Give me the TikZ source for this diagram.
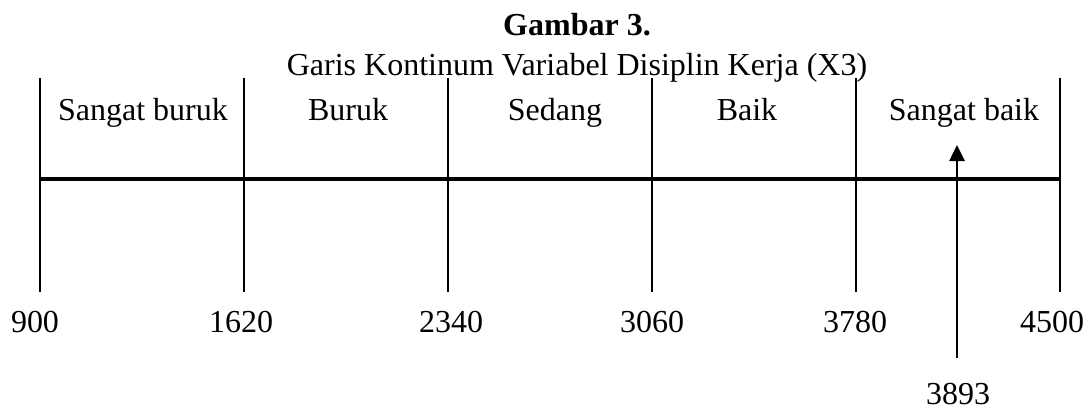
\documentclass[tikz,border=0pt]{standalone}
\usepackage{fontspec}
\setmainfont{Liberation Serif}
\usetikzlibrary{arrows.meta}
\tikzset{
  txt/.style={inner sep=0pt, anchor=base, font=\fontsize{32}{38}\selectfont},
  tick/.style={line width=2.6pt},
  axis/.style={line width=4.2pt},
  marker/.style={line width=2.6pt, -{Triangle[width=15pt,length=16pt]}}
}
\begin{document}
\begin{tikzpicture}[x=1pt,y=-1pt]
\useasboundingbox (0,0) rectangle (1090,410);
% title
\node[txt, font=\fontsize{32}{38}\selectfont\bfseries] (title) at (577,35) {Gambar 3.};
\node[txt] (sub) at (577,75) {Garis Kontinum Variabel Disiplin Kerja (X3)};
% ticks
\foreach \i/\x in {0/40,1/244,2/448,3/652,4/856,5/1060}{
  \coordinate (t\i-top) at (\x,78);
  \coordinate (t\i-bot) at (\x,292);
  \coordinate (t\i-mid) at (\x,179);
  \draw[tick] (t\i-top) -- (t\i-bot);
}
\draw[axis] (t0-mid) -- (t5-mid);
% category labels
\node[txt] (c1) at (143,120) {Sangat buruk};
\node[txt] (c2) at (348,120) {Buruk};
\node[txt] (c3) at (555,120) {Sedang};
\node[txt] (c4) at (747,120) {Baik};
\node[txt] (c5) at (964,120) {Sangat baik};
% numbers
\node[txt] (n0) at (35,332) {900};
\node[txt] (n1) at (241,332) {1620};
\node[txt] (n2) at (451,332) {2340};
\node[txt] (n3) at (652,332) {3060};
\node[txt] (n4) at (855,332) {3780};
\node[txt] (n5) at (1052,332) {4500};
% marker arrow
\coordinate (abot) at (957,358);
\coordinate (atop) at (957,145);
\draw[marker] (abot) -- (atop);
\node[txt] (val) at (958,404) {3893};
\end{tikzpicture}
\end{document}
